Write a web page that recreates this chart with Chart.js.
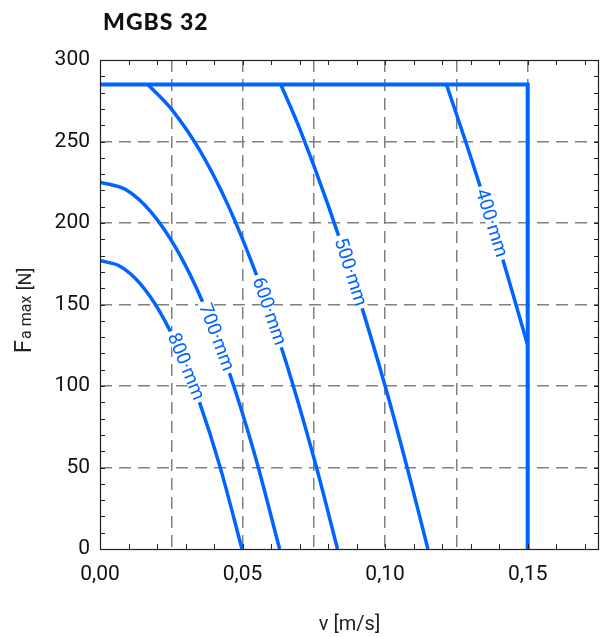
<!DOCTYPE html>
<html>
<head>
<meta charset="utf-8">
<script src="https://cdn.jsdelivr.net/npm/chart.js@4.4.0/dist/chart.umd.min.js"></script>
<style>
  html, body { margin: 0; padding: 0; background: #fff; }
  #wrap { width: 601px; height: 637px; }
</style>
</head>
<body>
<div id="wrap"><canvas id="chart" width="601" height="637"></canvas></div>
<script>
// ---- data ----
const chartTitle = 'MGBS 32';
const xTitle = 'v [m/s]';

// limit line (max force / max speed)
const limitV = [0, 0.15, 0.15];
const limitF = [285, 285, 0];

// stroke curves
const v800 = [0, 0.007, 0.014, 0.021, 0.028, 0.035, 0.042, 0.0498];
const f800 = [177, 173.5, 163, 145.5, 121, 89.5, 51, 0];
const v700 = [0, 0.009, 0.018, 0.027, 0.036, 0.045, 0.054, 0.063];
const f700 = [225, 220.5, 206.5, 183.5, 151.5, 110, 59.5, 0];
const v600 = [0.0168, 0.025, 0.035, 0.045, 0.055, 0.065, 0.075, 0.0833];
const f600 = [285, 270, 244.5, 210.5, 167.5, 116, 56, 0];
const v500 = [0.0634, 0.07, 0.08, 0.09, 0.1, 0.108, 0.115];
const f500 = [285, 258, 211, 158.5, 100, 48, 0];
const v400 = [0.1215, 0.13, 0.14, 0.15];
const f400 = [285, 240.5, 185, 125];

const curveNames = ['800·mm', '700·mm', '600·mm', '500·mm', '400·mm'];
const labelForce = [112, 130, 146, 170, 200];   // force at which each label sits

const blue = '#0064ff';
const gridGrey = '#808080';

function pairs(xs, ys) {
    return xs.map((x, i) => ({ x: x, y: ys[i] }));
}

const curveSets = [[v800, f800], [v700, f700], [v600, f600], [v500, f500], [v400, f400]];

const datasets = curveSets.map((c, i) => ({
    label: curveNames[i],
    data: pairs(c[0], c[1]),
    borderColor: blue,
    borderWidth: 3.5,
    pointRadius: 0,
    tension: 0.35,
    fill: false
}));
datasets.push({
    label: 'limit',
    data: pairs(limitV, limitF),
    borderColor: blue,
    borderWidth: 4,
    pointRadius: 0,
    tension: 0,
    borderJoinStyle: 'miter',
    fill: false
});

// point on a drawn segment (bezier if control points exist) at pixel y
function pointAtY(pts, ty) {
    for (let j = 0; j < pts.length - 1; j++) {
        const p0 = pts[j], p3 = pts[j + 1];
        if ((p0.y - ty) * (p3.y - ty) > 0) continue;
        const c1 = { x: p0.cp2x ?? p0.x, y: p0.cp2y ?? p0.y };
        const c2 = { x: p3.cp1x ?? p3.x, y: p3.cp1y ?? p3.y };
        const bez = (t, a, b, c, d) => {
            const u = 1 - t;
            return u * u * u * a + 3 * u * u * t * b + 3 * u * t * t * c + t * t * t * d;
        };
        let lo = 0, hi = 1;
        for (let k = 0; k < 40; k++) {
            const mid = (lo + hi) / 2;
            const ym = bez(mid, p0.y, c1.y, c2.y, p3.y);
            if ((ym - ty) * (p0.y - ty) > 0) lo = mid; else hi = mid;
        }
        const t = (lo + hi) / 2;
        const e = 0.002;
        const ta = Math.max(0, t - e), tb = Math.min(1, t + e);
        const dx = bez(tb, p0.x, c1.x, c2.x, p3.x) - bez(ta, p0.x, c1.x, c2.x, p3.x);
        const dy = bez(tb, p0.y, c1.y, c2.y, p3.y) - bez(ta, p0.y, c1.y, c2.y, p3.y);
        return { x: bez(t, p0.x, c1.x, c2.x, p3.x), y: ty, angle: Math.atan2(dy, dx) };
    }
    return null;
}

const decorPlugin = {
    id: 'decor',
    afterDatasetsDraw(chart) {
        const ctx = chart.ctx;
        const y = chart.scales.y;
        ctx.save();
        ctx.font = '19px Roboto';
        ctx.textAlign = 'center';
        ctx.textBaseline = 'middle';
        curveNames.forEach((name, i) => {
            const pts = chart.getDatasetMeta(i).data;
            const p = pointAtY(pts, y.getPixelForValue(labelForce[i]));
            if (!p) return;
            const w = ctx.measureText(name).width;
            ctx.save();
            ctx.translate(p.x, p.y);
            ctx.rotate(p.angle);
            ctx.fillStyle = '#fff';
            ctx.fillRect(-w / 2 - 3, -6, w + 6, 12);
            ctx.fillStyle = blue;
            ctx.fillText(name, 0, 1);
            ctx.restore();
        });
        ctx.restore();
    },
    afterDraw(chart) {
        const ctx = chart.ctx;
        const a = chart.chartArea;
        const x = chart.scales.x, y = chart.scales.y;
        ctx.save();
        // frame
        ctx.strokeStyle = '#222';
        ctx.lineWidth = 1.2;
        ctx.strokeRect(a.left + 0.5, a.top + 0.5, a.right - a.left - 1, a.bottom - a.top);
        // inward minor ticks
        ctx.lineWidth = 1;
        ctx.beginPath();
        for (let k = 1; k < 18; k++) {
            const px = Math.round(x.getPixelForValue(k / 100)) + 0.5;
            ctx.moveTo(px, a.bottom); ctx.lineTo(px, a.bottom - 5);
            ctx.moveTo(px, a.top); ctx.lineTo(px, a.top + 5);
        }
        for (let k = 1; k < 30; k++) {
            const py = Math.round(y.getPixelForValue(k * 10)) + 0.5;
            ctx.moveTo(a.left, py); ctx.lineTo(a.left + 5, py);
            ctx.moveTo(a.right, py); ctx.lineTo(a.right - 5, py);
        }
        ctx.stroke();

        // title
        ctx.fillStyle = '#111';
        ctx.font = '900 23px Lato';
        ctx.letterSpacing = '1px';
        ctx.textAlign = 'left';
        ctx.textBaseline = 'alphabetic';
        ctx.fillText(chartTitle, a.left + 3, 30);
        ctx.letterSpacing = '0px';

        // x title
        ctx.font = '20px Roboto';
        ctx.textAlign = 'center';
        ctx.fillStyle = '#222';
        ctx.fillText(xTitle, (a.left + a.right) / 2, 630);

        // y title F_a max [N]
        ctx.save();
        ctx.translate(31, 310);
        ctx.rotate(-Math.PI / 2);
        ctx.textAlign = 'left';
        const parts = [['F', '24px Roboto'], ['a max', '16px Roboto'], [' [N]', '18px Roboto']];
        let total = 0;
        parts.forEach(p => { ctx.font = p[1]; total += ctx.measureText(p[0]).width + 1; });
        let cx = -total / 2;
        parts.forEach(p => {
            ctx.font = p[1];
            ctx.fillText(p[0], cx, 0);
            cx += ctx.measureText(p[0]).width + 1;
        });
        ctx.restore();
        ctx.restore();
    }
};

const isEdge = (v, max) => Math.abs(v) < 1e-9 || Math.abs(v - max) < 1e-9;

new Chart(document.getElementById('chart'), {
    type: 'line',
    data: { datasets: datasets },
    options: {
        responsive: false,
        animation: false,
        devicePixelRatio: 1,
        layout: { padding: { top: 60, right: 2, left: 0, bottom: 0 } },
        plugins: {
            legend: { display: false },
            tooltip: { enabled: false },
            title: { display: false }
        },
        scales: {
            x: {
                type: 'linear',
                min: 0,
                max: 0.175,
                afterFit(scale) { scale.height = 88; },
                ticks: {
                    stepSize: 0.025,
                    autoSkip: false,
                    maxRotation: 0,
                    padding: 0,
                    color: '#111',
                    font: { family: 'Roboto', size: 21, lineHeight: 2.45 },
                    callback(value) {
                        const k = Math.round(value / 0.025);
                        if (k % 2 !== 0 || k > 6) return '';
                        return value.toFixed(2).replace('.', ',');
                    }
                },
                grid: {
                    drawTicks: false,
                    lineWidth: 1.5,
                    color: c => (c.tick && isEdge(c.tick.value, 0.175)) ? 'rgba(0,0,0,0)' : gridGrey
                },
                border: { display: false, dash: [12, 7] }
            },
            y: {
                type: 'linear',
                min: 0,
                max: 300,
                afterFit(scale) { scale.width = 100; },
                ticks: {
                    stepSize: 50,
                    padding: 10,
                    color: '#111',
                    font: { family: 'Roboto', size: 21 }
                },
                grid: {
                    drawTicks: false,
                    lineWidth: 1.5,
                    color: c => (c.tick && isEdge(c.tick.value, 300)) ? 'rgba(0,0,0,0)' : gridGrey
                },
                border: { display: false, dash: [12, 7] }
            }
        }
    },
    plugins: [decorPlugin]
});
</script>
</body>
</html>
